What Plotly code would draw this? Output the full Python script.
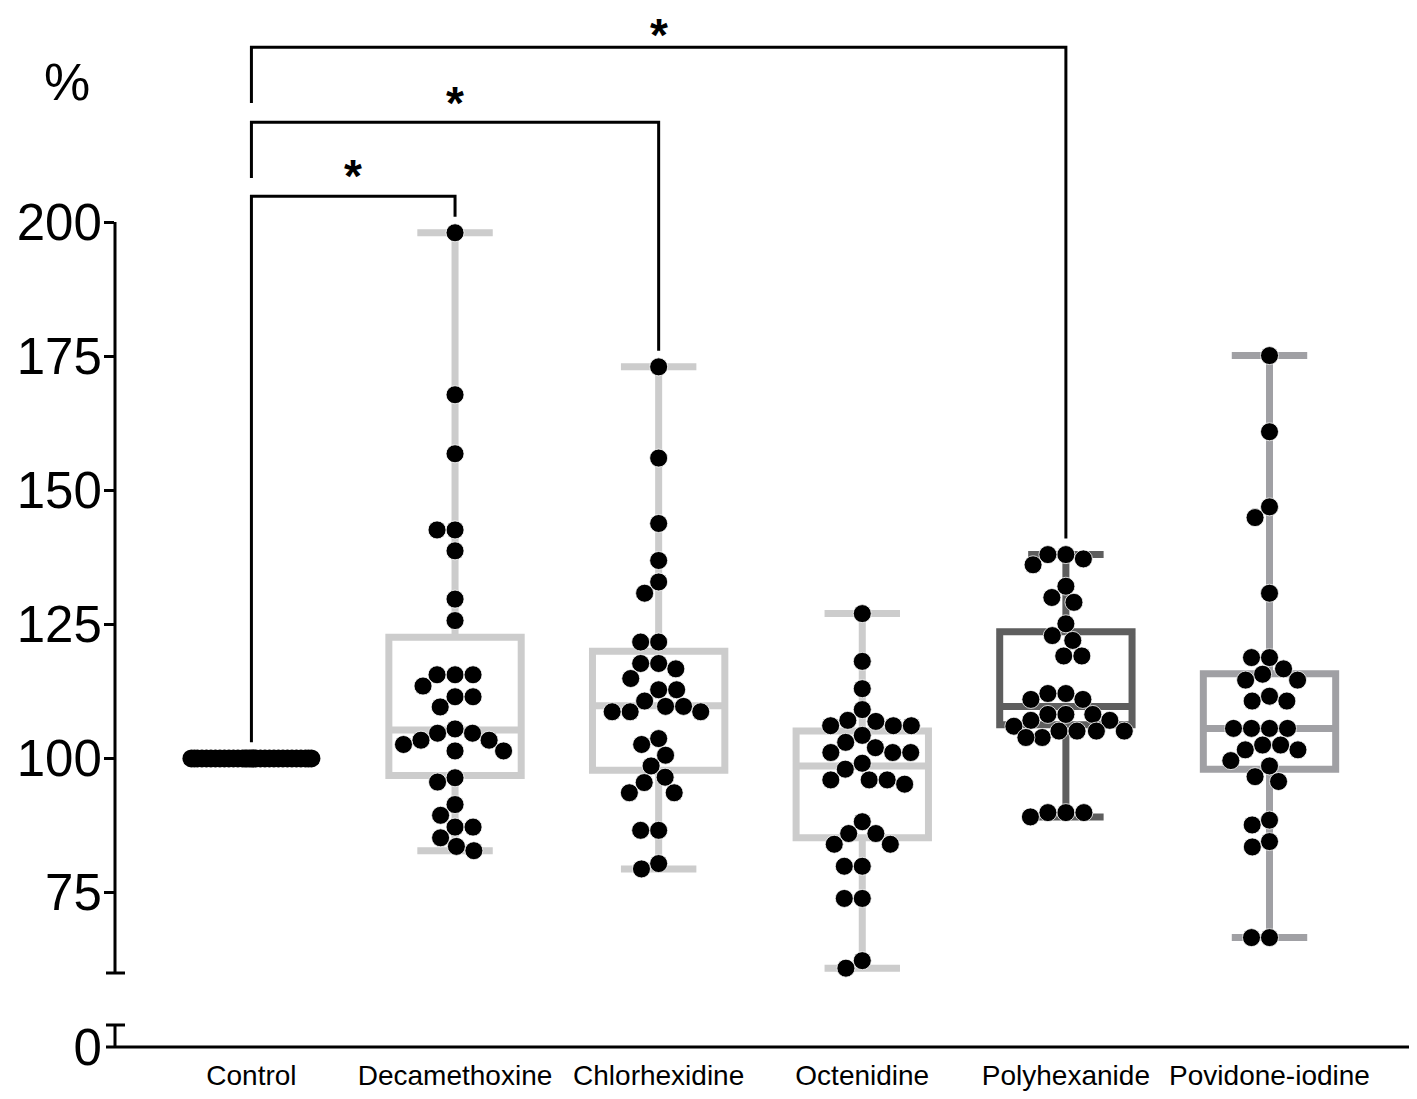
import math
import plotly.graph_objects as go

# ---------------- data ----------------
categories = ["Control", "Decamethoxine", "Chlorhexidine", "Octenidine", "Polyhexanide", "Povidone-iodine"]

control = [100.0, 100.0, 100.0, 100.0, 100.0, 100.0, 100.0, 100.0,
           100.0, 100.0, 100.0, 100.0, 100.0, 100.0, 100.0, 100.0,
           100.0, 100.0, 100.0, 100.0, 100.0, 100.0, 100.0, 100.0,
           100.0, 100.0, 100.0, 100.0, 100.0, 100.0, 100.0, 100.0]
decamethoxine = [198.0, 167.8, 156.8, 142.6, 142.6, 138.7, 129.7, 125.7,
                 115.6, 115.6, 115.6, 113.5, 111.5, 111.5, 109.6, 105.5,
                 104.7, 104.7, 103.4, 103.4, 102.6, 101.4, 101.4, 96.4,
                 95.6, 91.4, 89.4, 87.2, 87.2, 85.2, 83.6, 82.8]
chlorhexidine = [173.0, 156.0, 143.8, 136.9, 132.9, 130.8, 121.7, 121.7,
                 117.7, 117.7, 116.7, 114.9, 112.8, 112.8, 110.7, 109.7,
                 109.7, 108.7, 108.7, 108.7, 103.7, 102.6, 100.6, 98.6,
                 96.5, 95.5, 93.6, 93.6, 86.6, 86.6, 80.4, 79.4]
octenidine = [127.0, 118.1, 113.0, 109.1, 107.1, 106.9, 106.1, 106.1,
              106.1, 104.3, 103.0, 102.0, 101.1, 101.1, 101.1, 99.1,
              98.0, 96.0, 96.0, 96.0, 95.2, 88.2, 86.0, 86.0,
              84.0, 84.0, 79.9, 79.9, 73.9, 73.9, 62.3, 60.9]
polyhexanide = [138.0, 138.0, 137.2, 136.1, 132.1, 130.0, 129.1, 125.1,
                122.9, 122.0, 119.1, 119.1, 112.1, 112.1, 111.0, 111.0,
                108.2, 108.2, 108.2, 107.1, 107.1, 106.0, 105.1, 105.1,
                105.1, 105.1, 103.9, 103.9, 89.9, 89.9, 89.9, 89.1]
povidone_iodine = [175.1, 160.9, 146.9, 144.9, 130.8, 118.8, 118.8, 116.7,
                   115.7, 114.6, 114.6, 111.6, 110.7, 110.7, 105.6, 105.6,
                   105.6, 105.6, 102.5, 102.5, 101.6, 101.6, 99.6, 98.6,
                   96.6, 95.7, 88.5, 87.6, 84.5, 83.5, 66.6, 66.6]

# box statistics
q1_values = [100.0, 96.8, 97.8, 85.2, 106.3, 98.0]
median_values = [100.0, 105.3, 109.8, 98.6, 109.7, 105.6]
q3_values = [100.0, 122.6, 120.0, 105.1, 123.6, 115.8]

y_tick_values = [75, 100, 125, 150, 175, 200]
y_low_tick_values = [0]

# significance comparisons: (group a, group b, label)
comparisons = [(0, 1, "*"), (0, 2, "*"), (0, 4, "*")]

# ---------------- styling / layout constants ----------------
groups = [control, decamethoxine, chlorhexidine, octenidine, polyhexanide, povidone_iodine]
box_colors = ["#000000", "#cccccc", "#cccccc", "#cccccc", "#5e5e5e", "#a0a0a4"]

# the page body has an 8px margin, so the figure is 8px smaller than the window
W, H = 1409, 1091
ML, MR, MT, MB = 107, 7, 0, 52
PW, PH = W - ML - MR, H - MT - MB
X_RANGE = [-0.67, 5.69]
Y_RANGE = [60, 239.9]
Y_DOMAIN = [74 / PH, 1.0]
Y2_RANGE = [0, 4.1]
Y2_DOMAIN = [0.0, 22 / PH]
FONT = "Liberation Sans, Arial, Helvetica, sans-serif"
BOX_W = 0.65
DOT = 18
bracket_levels = [204.8, 218.6, 232.6]
star_anchor_levels = [203.3, 216.9, 229.6]

xpx = PW / (X_RANGE[1] - X_RANGE[0])
ypx = PH * (Y_DOMAIN[1] - Y_DOMAIN[0]) / (Y_RANGE[1] - Y_RANGE[0])


def beeswarm(vals, diam, max_off):
    ys = [v * ypx for v in vals]
    order = sorted(range(len(vals)), key=lambda i: (-vals[i], i))
    placed = []
    offs = [0.0] * len(vals)
    for i in order:
        y = ys[i]
        near = [(px, py) for px, py in placed if abs(py - y) < diam]
        cands = {0.0}
        for px, py in near:
            dx = math.sqrt(max(diam ** 2 - (py - y) ** 2, 0.0))
            cands.add(px + dx)
            cands.add(px - dx)
        best = None
        for c in sorted(cands, key=lambda c: (abs(c), c)):
            if abs(c) > max_off + 1e-6:
                continue
            if all((c - px) ** 2 + (y - py) ** 2 >= diam ** 2 - 1e-6 for px, py in near):
                best = c
                break
        if best is None:
            # no free slot inside the column: put it where it is farthest from the others
            grid = [g * 0.5 for g in range(-int(2 * max_off), int(2 * max_off) + 1)]
            best = max(grid, key=lambda c: (min(math.hypot(c - px, y - py) for px, py in near), -abs(c)))
        offs[i] = best
        placed.append((best, y))
    return [o / xpx for o in offs]


fig = go.Figure()

# boxes
for i, (vals, col) in enumerate(zip(groups, box_colors)):
    fig.add_trace(go.Box(
        x=[i], q1=[q1_values[i]], median=[median_values[i]], q3=[q3_values[i]],
        lowerfence=[min(vals)], upperfence=[max(vals)],
        width=BOX_W, whiskerwidth=0.57, boxpoints=False,
        line=dict(color=col, width=7), fillcolor="rgba(0,0,0,0)",
        showlegend=False, hoverinfo="skip", xaxis="x", yaxis="y",
    ))

# dots
for i, vals in enumerate(groups):
    offs = beeswarm(vals, DOT, 60)
    fig.add_trace(go.Scatter(
        x=[i + o for o in offs], y=vals, mode="markers",
        marker=dict(size=DOT, color="black",
                    line=dict(color="white", width=0 if i == 0 else 0.8)),
        cliponaxis=False, showlegend=False, hoverinfo="skip", xaxis="x", yaxis="y",
    ))

# invisible trace so that the lower (broken) y axis segment exists
fig.add_trace(go.Scatter(x=[0], y=[0], mode="markers", marker=dict(opacity=0),
                         showlegend=False, hoverinfo="skip", xaxis="x", yaxis="y2"))

shapes = []
annotations = []
line_style = dict(color="black", width=3)

# significance brackets
for k, (a, b, lab) in enumerate(comparisons):
    lvl = bracket_levels[k]
    left_end = max(groups[a]) + 3 if k == 0 else lvl - 10.4
    right_end = max(groups[b]) + 3
    shapes.append(dict(type="path", xref="x", yref="y",
                       path=f"M {a},{left_end} L {a},{lvl} L {b},{lvl} L {b},{right_end}",
                       line=line_style))
    annotations.append(dict(x=(a + b) / 2, y=star_anchor_levels[k], xref="x", yref="y",
                            text=f"<b>{lab}</b>", showarrow=False, yanchor="bottom", xanchor="center",
                            font=dict(family=FONT, size=46, color="black")))

# broken y axis and x axis lines
y_top_frac = (200 - Y_RANGE[0]) / (Y_RANGE[1] - Y_RANGE[0])
capL, capR = -9 / PW, 10 / PW
shapes += [
    dict(type="line", xref="paper", yref="y domain", x0=0, x1=0, y0=0, y1=y_top_frac, line=line_style),
    dict(type="line", xref="paper", yref="y domain", x0=capL, x1=capR, y0=0, y1=0, line=line_style),
    dict(type="line", xref="paper", yref="y2 domain", x0=0, x1=0, y0=0, y1=1, line=line_style),
    dict(type="line", xref="paper", yref="y2 domain", x0=capL, x1=capR, y0=1, y1=1, line=line_style),
    dict(type="line", xref="paper", yref="paper", x0=capL, x1=1, y0=0, y1=0, line=line_style),
]

annotations.append(dict(x=(59 - ML) / PW, y=1 - (74 - MT) / PH, xref="paper", yref="paper", text="%",
                        showarrow=False, xanchor="center", yanchor="middle",
                        font=dict(family=FONT, size=52, color="black")))

fig.update_layout(
    width=W, height=H, margin=dict(l=ML, r=MR, t=MT, b=MB, pad=0, autoexpand=False),
    paper_bgcolor="white", plot_bgcolor="white",
    font=dict(family=FONT, color="black"),
    showlegend=False, boxmode="overlay",
    shapes=shapes, annotations=annotations,
    xaxis=dict(range=X_RANGE, domain=[0, 1], anchor="y2", showgrid=False, zeroline=False,
               showline=False, tickmode="array", tickvals=list(range(len(categories))),
               ticktext=categories, ticks="outside", ticklen=3, tickcolor="rgba(0,0,0,0)",
               automargin=False, tickfont=dict(family=FONT, size=28, color="black")),
    yaxis=dict(range=Y_RANGE, domain=Y_DOMAIN, anchor="x", showgrid=False, zeroline=False,
               showline=False, tickmode="array", tickvals=y_tick_values, ticks="outside",
               ticklen=10, tickwidth=3, tickcolor="black", ticklabelstandoff=-8,
               automargin=False, tickfont=dict(family=FONT, size=51, color="black")),
    yaxis2=dict(range=Y2_RANGE, domain=Y2_DOMAIN, anchor="x", showgrid=False, zeroline=False,
                showline=False, tickmode="array", tickvals=y_low_tick_values,
                ticktext=[str(v) for v in y_low_tick_values], ticks="outside", ticklen=10,
                tickcolor="rgba(0,0,0,0)", ticklabelstandoff=-8, automargin=False,
                tickfont=dict(family=FONT, size=51, color="black")),
)

fig.write_html("out.html")
